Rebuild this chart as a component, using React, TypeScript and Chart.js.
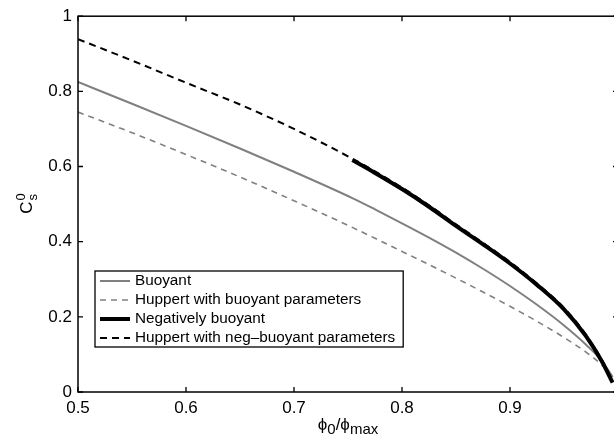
import { useEffect, useRef } from "react";
import { Chart, registerables } from "chart.js";

Chart.register(...registerables);

const X_VALUES = [0.5, 0.55, 0.6, 0.65, 0.7, 0.754, 0.775, 0.8, 0.825, 0.85, 0.875, 0.9, 0.925, 0.95, 0.97, 0.985, 0.995];
const BUOYANT = [0.825, 0.767, 0.708, 0.648, 0.586, 0.516, 0.486, 0.449, 0.411, 0.371, 0.328, 0.282, 0.232, 0.177, 0.127, 0.083, 0.04];
const HUPPERT_BUOYANT = [0.745, 0.69, 0.632, 0.572, 0.509, 0.438, 0.409, 0.374, 0.339, 0.303, 0.266, 0.228, 0.188, 0.145, 0.107, 0.072, 0.04];
const NEG_BUOYANT = [null, null, null, null, null, 0.617, 0.583, 0.54, 0.493, 0.442, 0.393, 0.342, 0.285, 0.22, 0.15, 0.082, 0.025];
const HUPPERT_NEG = [0.939, 0.882, 0.823, 0.765, 0.7, 0.621, 0.587, 0.544, 0.497, 0.446, 0.397, 0.346, 0.289, 0.224, 0.154, 0.086, 0.028];

const SERIES_LABELS = [
  "Buoyant",
  "Huppert with buoyant parameters",
  "Negatively buoyant",
  "Huppert with neg–buoyant parameters",
];

const X_TICKS = [0.5, 0.6, 0.7, 0.8, 0.9, 1.0];
const X_TICK_LABELS = ["0.5", "0.6", "0.7", "0.8", "0.9", "1"];
const Y_TICKS = [0, 0.2, 0.4, 0.6, 0.8, 1];
const Y_TICK_LABELS = ["0", "0.2", "0.4", "0.6", "0.8", "1"];

const FONT = "'Liberation Sans', Arial, Helvetica, sans-serif";

function pts(ys: (number | null)[]) {
  return X_VALUES.map((x, i) => ({ x, y: ys[i] }));
}

const framePlugin = {
  id: "frame",
  afterDatasetsDraw(chart: any) {
    const { ctx, chartArea: a, scales } = chart;
    const xs = scales.x;
    const ys = scales.y;
    ctx.save();
    ctx.strokeStyle = "#000";
    ctx.lineWidth = 1.3;
    ctx.beginPath();
    for (const v of X_TICKS) {
      const px = xs.getPixelForValue(v);
      ctx.moveTo(px, a.bottom);
      ctx.lineTo(px, a.bottom - 5);
      ctx.moveTo(px, a.top);
      ctx.lineTo(px, a.top + 5);
    }
    for (const v of Y_TICKS) {
      const py = ys.getPixelForValue(v);
      ctx.moveTo(a.left, py);
      ctx.lineTo(a.left + 5, py);
      ctx.moveTo(a.right, py);
      ctx.lineTo(a.right - 5, py);
    }
    ctx.stroke();
    ctx.lineWidth = 1.5;
    ctx.strokeRect(a.left, a.top, a.right - a.left, a.bottom - a.top);
    ctx.restore();
  },
};

const legendPlugin = {
  id: "customLegend",
  afterDraw(chart: any) {
    const { ctx, chartArea: a } = chart;
    ctx.save();
    ctx.font = `15.3px ${FONT}`;
    const labels = chart.data.datasets.map((d: any) => d.label);
    let maxW = 0;
    for (const l of labels) maxW = Math.max(maxW, ctx.measureText(l).width);
    const left = a.left + 17;
    const bottom = a.bottom - 45;
    const rowH = 19;
    const h = rowH * labels.length;
    const top = bottom - h;
    const w = 40 + maxW + 8;
    ctx.fillStyle = "#fff";
    ctx.fillRect(left, top, w, h);
    ctx.strokeStyle = "#000";
    ctx.lineWidth = 1.3;
    ctx.strokeRect(left, top, w, h);
    chart.data.datasets.forEach((d: any, i: number) => {
      const cy = top + rowH * i + rowH / 2 + 0.5;
      ctx.beginPath();
      ctx.strokeStyle = d.borderColor;
      ctx.lineWidth = d.borderWidth;
      ctx.setLineDash(d.borderDash || []);
      ctx.moveTo(left + 5, cy);
      ctx.lineTo(left + 35, cy);
      ctx.stroke();
      ctx.setLineDash([]);
      ctx.fillStyle = "#000";
      ctx.textAlign = "left";
      ctx.textBaseline = "middle";
      ctx.fillText(d.label, left + 40, cy);
    });
    ctx.restore();
  },
};

const titlesPlugin = {
  id: "axisTitles",
  afterDraw(chart: any) {
    const { ctx, chartArea: a } = chart;
    ctx.save();
    ctx.fillStyle = "#000";
    ctx.textBaseline = "alphabetic";
    ctx.textAlign = "left";
    const parts: [string, number, number][] = [
      ["ϕ", 17, 0],
      ["0", 15, 4],
      ["/", 17, 0],
      ["ϕ", 17, 0],
      ["max", 15, 4],
    ];
    let total = 0;
    for (const [t, s] of parts) {
      ctx.font = `${s}px ${FONT}`;
      total += ctx.measureText(t).width;
    }
    let x = (a.left + a.right) / 2 - total / 2;
    const base = 430;
    for (const [t, s, dy] of parts) {
      ctx.font = `${s}px ${FONT}`;
      ctx.fillText(t, x, base + dy);
      x += ctx.measureText(t).width;
    }
    ctx.translate(32, (a.top + a.bottom) / 2);
    ctx.rotate(-Math.PI / 2);
    ctx.font = `17px ${FONT}`;
    const cw = ctx.measureText("C").width;
    ctx.font = `13px ${FONT}`;
    const sw = Math.max(ctx.measureText("0").width, ctx.measureText("s").width);
    const sx = -(cw + sw) / 2;
    ctx.font = `17px ${FONT}`;
    ctx.fillText("C", sx, 0);
    ctx.font = `13px ${FONT}`;
    ctx.fillText("0", sx + cw + 1, -7);
    ctx.fillText("s", sx + cw + 1, 5);
    ctx.restore();
  },
};

export default function App() {
  const canvasRef = useRef<HTMLCanvasElement | null>(null);

  useEffect(() => {
    if (!canvasRef.current) return;
    const chart = new Chart(canvasRef.current, {
      type: "line",
      data: {
        datasets: [
          {
            label: SERIES_LABELS[0],
            data: pts(BUOYANT),
            borderColor: "#808080",
            borderWidth: 2,
            pointRadius: 0,
            cubicInterpolationMode: "monotone",
            order: 4,
          },
          {
            label: SERIES_LABELS[1],
            data: pts(HUPPERT_BUOYANT),
            borderColor: "#808080",
            borderWidth: 1.6,
            borderDash: [6, 5],
            pointRadius: 0,
            cubicInterpolationMode: "monotone",
            order: 3,
          },
          {
            label: SERIES_LABELS[2],
            data: pts(NEG_BUOYANT),
            borderColor: "#000",
            borderWidth: 4,
            pointRadius: 0,
            cubicInterpolationMode: "monotone",
            order: 2,
          },
          {
            label: SERIES_LABELS[3],
            data: pts(HUPPERT_NEG),
            borderColor: "#000",
            borderWidth: 2,
            borderDash: [7, 5],
            pointRadius: 0,
            cubicInterpolationMode: "monotone",
            order: 1,
          },
        ] as any,
      },
      options: {
        animation: false,
        responsive: true,
        maintainAspectRatio: false,
        layout: { padding: { top: 12, right: 12, left: 0, bottom: 0 } },
        plugins: { legend: { display: false }, tooltip: { enabled: false } },
        scales: {
          x: {
            type: "linear",
            min: 0.5,
            max: 1.0,
            grid: { display: false, drawTicks: false },
            border: { display: false },
            afterBuildTicks: (s: any) => {
              s.ticks = X_TICKS.slice(0, 5).map((v) => ({ value: v }));
            },
            afterFit: (s: any) => {
              s.height = 45;
            },
            ticks: {
              padding: 6,
              color: "#000",
              font: { family: FONT, size: 17 },
              maxRotation: 0,
              callback: (v: any) => {
                const i = X_TICKS.findIndex((t) => Math.abs(t - v) < 1e-9);
                return i >= 0 ? X_TICK_LABELS[i] : "";
              },
            },
          },
          y: {
            type: "linear",
            min: 0,
            max: 1,
            grid: { display: false, drawTicks: false },
            border: { display: false },
            afterBuildTicks: (s: any) => {
              s.ticks = Y_TICKS.map((v) => ({ value: v }));
            },
            afterFit: (s: any) => {
              s.width = 78;
            },
            ticks: {
              padding: 6,
              color: "#000",
              font: { family: FONT, size: 17 },
              callback: (v: any) => {
                const i = Y_TICKS.findIndex((t) => Math.abs(t - v) < 1e-9);
                return i >= 0 ? Y_TICK_LABELS[i] : "";
              },
            },
          },
        },
      },
      plugins: [framePlugin, legendPlugin, titlesPlugin],
    });
    return () => chart.destroy();
  }, []);

  return (
    <div style={{ position: "fixed", left: 0, top: 0, width: 614, height: 437, overflow: "hidden", background: "#fff" }}>
      <div style={{ position: "relative", width: 630, height: 437 }}>
        <canvas ref={canvasRef} />
      </div>
    </div>
  );
}
